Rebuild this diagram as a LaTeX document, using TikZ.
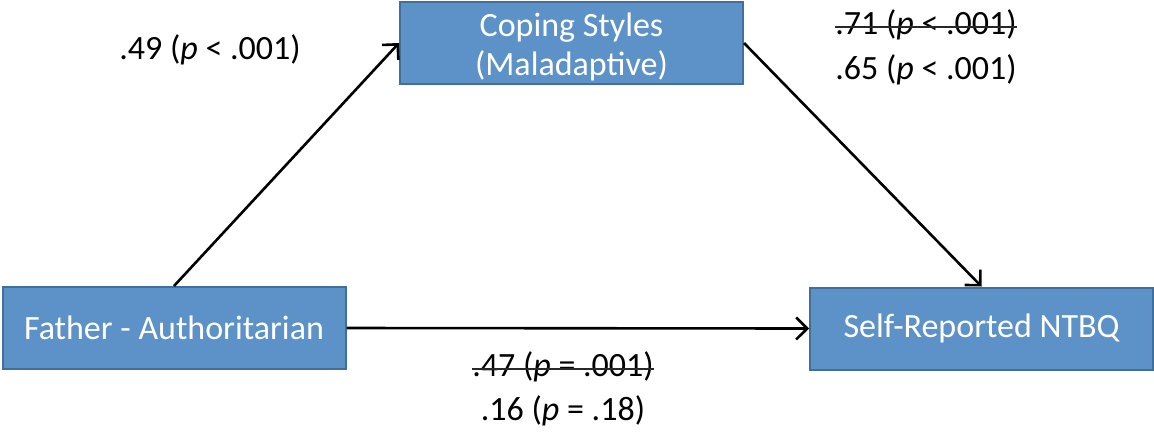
\documentclass[tikz,border=0pt]{standalone}
\usepackage{fontspec}
\setmainfont{Carlito}
\usetikzlibrary{arrows.meta}
\definecolor{boxfill}{RGB}{92,146,199}
\definecolor{boxline}{RGB}{66,110,156}
\definecolor{strikecol}{RGB}{40,40,40}
\tikzset{
  varbox/.style={draw=boxline, line width=2pt, fill=boxfill, text=white,
    minimum width=343pt, minimum height=82pt, inner sep=0pt, align=center,
    font=\fontsize{34}{40}\selectfont},
  boxtext/.style={text=white, inner sep=0pt, align=center,
    font=\fontsize{34}{39}\selectfont},
  lbl/.style={inner sep=0pt, font=\fontsize{34}{38}\selectfont},
  conn/.style={line width=2.6pt, -{Straight Barb[length=11pt,width=22pt]}},
  strike/.style={line width=1.6pt, strikecol}
}
\begin{document}
\begin{tikzpicture}[x=1pt,y=-1pt]
\useasboundingbox (0,0) rectangle (1154,432);
\node[varbox] (C) at (571.5,43) {};
\node[boxtext] (Ct) at ([yshift=-4pt]C.center) {Coping Styles\\(Maladaptive)};
\node[varbox] (F) at (174,328) {Father - Authoritarian};
\node[varbox] (N) at (981.5,328.5) {Self-Reported NTBQ};
\draw[conn] (F.north) -- (C.west);
\draw[conn] (C.east) -- (N.north);
\draw[conn] (F.east) -- (N.west);
\node[lbl] (l49) at (210,50) {.49 (\textit{p} < .001)};
\node[lbl] (l71) at (926,25) {.71 (\textit{p} < .001)};
\node[lbl] (l65) at (926,70) {.65 (\textit{p} < .001)};
\node[lbl] (l47) at (563,367) {.47 (\textit{p} = .001)};
\node[lbl] (l16) at (563,411) {.16 (\textit{p} = .18)};
\draw[strike] ([yshift=-2pt]l71.west) -- ([yshift=-2pt]l71.east);
\draw[strike] ([yshift=-2pt]l47.west) -- ([yshift=-2pt]l47.east);
\end{tikzpicture}
\end{document}
